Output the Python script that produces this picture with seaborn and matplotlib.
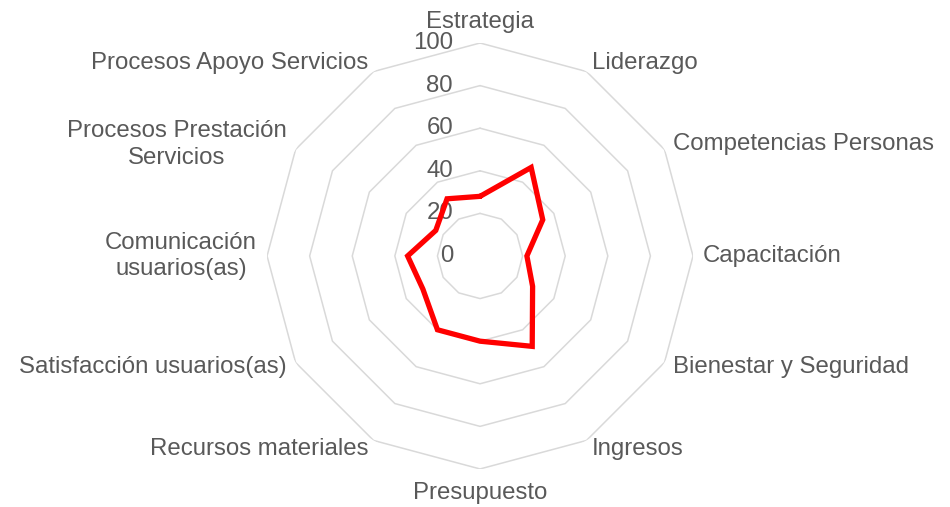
import numpy as np
import pandas as pd
import matplotlib
matplotlib.use('Agg')
import matplotlib.pyplot as plt
import seaborn as sns

sns.set_theme(style='white')
plt.rcParams['font.family'] = ['Liberation Sans', 'DejaVu Sans']

# Data
categories = ['Estrategia', 'Liderazgo', 'Competencias Personas', 'Capacitación',
              'Bienestar y Seguridad', 'Ingresos', 'Presupuesto', 'Recursos materiales',
              'Satisfacción usuarios(as)', 'Comunicación\nusuarios(as)',
              'Procesos Prestación\nServicios', 'Procesos Apoyo Servicios']
values = [28, 48, 34, 22, 28.5, 49, 40, 40, 31, 34, 24, 31]
ring_levels = [0, 20, 40, 60, 80, 100]

TEXT = '#595959'
GRID = '#d9d9d9'
FS = 17.3

n = len(categories)
angles = np.linspace(0, 2 * np.pi, n, endpoint=False)
closed_theta = np.append(angles, 2 * np.pi)
df = pd.DataFrame({'theta': closed_theta, 'value': values + [values[0]]})

fig = plt.figure(figsize=(9.5, 5.07), dpi=100)
fig.patch.set_facecolor('white')
ax = fig.add_axes([0.2811, 0.075, 0.4484, 0.8402], projection='polar')
ax.set_theta_zero_location('N')
ax.set_theta_direction(-1)
ax.set_facecolor('none')
ax.spines['polar'].set_visible(False)
ax.grid(False)
ax.set_xticks([])
ax.set_yticks([])
ax.set_ylim(0, 100)

# polygon grid rings
for lv in ring_levels[1:]:
    ax.plot(closed_theta, [lv] * (n + 1), color=GRID, lw=1.1, zorder=1)

# radial value labels
for lv in ring_levels:
    ax.annotate(str(lv), xy=(0, lv), xytext=(-27, 0), textcoords='offset pixels',
                ha='right', va='center', fontsize=FS, color=TEXT, zorder=2)

# series
sns.lineplot(data=df, x='theta', y='value', sort=False, estimator=None, ax=ax,
             color='#ff0000', linewidth=3.8, zorder=3)
ax.lines[-1].set_solid_joinstyle('miter')
ax.set_xlabel('')
ax.set_ylabel('')

# category labels
for ang, lab in zip(angles, categories):
    deg = np.degrees(ang)
    if deg < 1:
        ha, va = 'center', 'bottom'
    elif abs(deg - 180) < 1:
        ha, va = 'center', 'top'
    elif deg < 180:
        ha, va = 'left', 'center'
    else:
        ha, va = 'right', 'center'
    dist = 13 if abs(deg - 180) < 1 else 10
    off = (dist * np.sin(ang), dist * np.cos(ang))
    ax.annotate(lab, xy=(ang, 100), xytext=off, textcoords='offset pixels',
                ha=ha, va=va, fontsize=FS, color=TEXT,
                linespacing=1.25, multialignment='center')

plt.savefig('out.png', dpi=100)
plt.close()
